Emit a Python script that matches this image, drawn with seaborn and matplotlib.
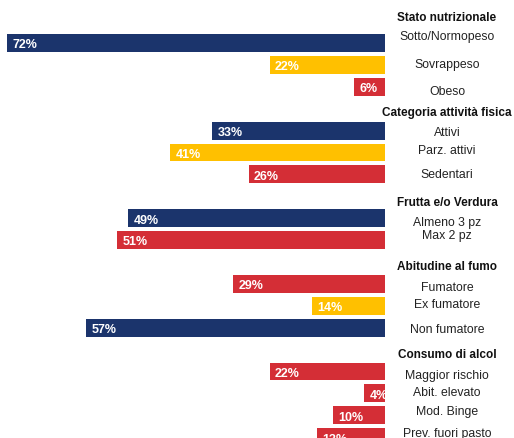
import pandas as pd
import numpy as np
import seaborn as sns
import matplotlib.pyplot as plt

# groups, categories, values (%), colour class
gruppi = ['Stato nutrizionale', 'Categoria attività fisica', 'Frutta e/o Verdura',
          'Abitudine al fumo', 'Consumo di alcol']
categorie = [
    ['Sotto/Normopeso', 'Sovrappeso', 'Obeso'],
    ['Attivi', 'Parz. attivi', 'Sedentari'],
    ['Almeno 3 pz', 'Max 2 pz'],
    ['Fumatore', 'Ex fumatore', 'Non fumatore'],
    ['Maggior rischio', 'Abit. elevato', 'Mod. Binge', 'Prev. fuori pasto'],
]
valori = [
    [72, 22, 6],
    [33, 41, 26],
    [49, 51],
    [29, 14, 57],
    [22, 4, 10, 13],
]
tipi = [
    ['buono', 'medio', 'cattivo'],
    ['buono', 'medio', 'cattivo'],
    ['buono', 'cattivo'],
    ['cattivo', 'medio', 'buono'],
    ['cattivo', 'cattivo', 'cattivo', 'cattivo'],
]
palette = {'buono': '#1B346C', 'medio': '#FFC000', 'cattivo': '#D42E36'}

# layout: first row of each group, header offsets, label nudges (in rows)
prima_riga = [0, 4, 8, 11, 15]
header_rows = [-1.2, 3.15, 7.25, 10.2, 14.2]
label_dy = [
    [-0.32, -0.05, 0.18],
    [0.05, -0.1, 0.0],
    [0.18, -0.23],
    [0.14, -0.1, 0.05],
    [0.14, -0.05, -0.18, -0.18],
]

rows = []
for g, (cats, vals, tt, dy) in enumerate(zip(categorie, valori, tipi, label_dy)):
    for k, (c, v, t, d) in enumerate(zip(cats, vals, tt, dy)):
        rows.append({'riga': prima_riga[g] + k, 'cat': c, 'val': v, 'neg': -v,
                     'tipo': t, 'dy': d})
df = pd.DataFrame(rows)

fig = plt.figure(figsize=(5.14, 4.39), dpi=100)
ax = fig.add_axes([0, 0, 1, 1])
plt.rcParams['font.family'] = ['Liberation Sans', 'DejaVu Sans']

sns.barplot(data=df, x='neg', y='riga', hue='tipo', palette=palette, orient='h',
            native_scale=True, width=0.82, dodge=False, errorbar=None,
            legend=False, ax=ax, saturation=1)

px = 5.25  # pixels per percent
ax.set_xlim(-385 / px, (514 - 385) / px)
ax.set_ylim((439 - 44) / 21.9, -44 / 21.9)
x_lab = (447 - 385) / px

for _, r in df.iterrows():
    ax.annotate(f"{r['val']}%", (r['neg'], r['riga']), xytext=(4, -1),
                textcoords='offset points', ha='left', va='center',
                color='white', fontweight='bold', fontsize=9, family=['Liberation Sans'])
    ax.text(x_lab, r['riga'] + r['dy'], r['cat'], ha='center', va='center', fontsize=8.8,
            color='#222222', family=['Liberation Sans'])

for g, h in zip(gruppi, header_rows):
    ax.text(x_lab, h, g, ha='center', va='center', fontsize=8.5, fontweight='bold',
            color='#111111', family=['Liberation Sans'])

ax.axis('off')
fig.savefig('out.png', dpi=100)
